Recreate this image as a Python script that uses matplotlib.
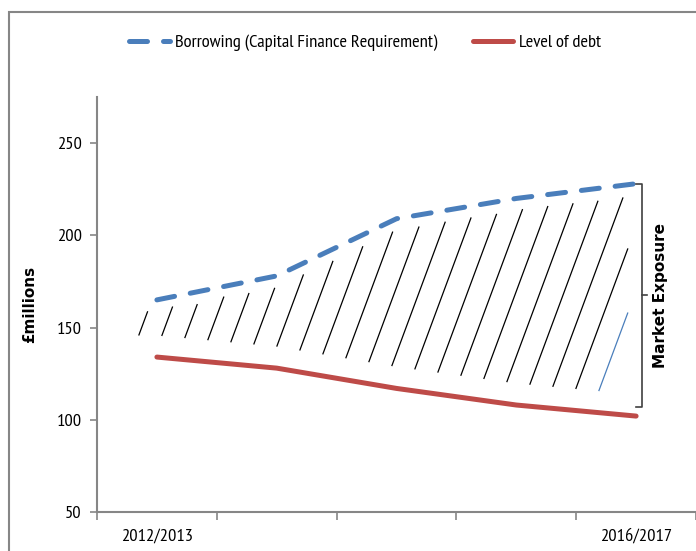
import matplotlib.pyplot as plt
import matplotlib.patches as mpatches
import numpy as np

## Chart data
years = ['2012/2013', '2013/2014', '2014/2015', '2015/2016', '2016/2017']
tick_labels = ['2012/2013', '', '', '', '2016/2017']
borrowing = [165, 178, 209, 220, 228]
debt = [134, 128, 117, 108, 102]

blue = '#4A7EBB'
red = '#BE4B48'
grey = '#868686'

plt.rcParams['font.family'] = ['PT Sans Narrow', 'DejaVu Sans']

fig = plt.figure(figsize=(6.96, 5.51), dpi=100)
ax = fig.add_axes([97/696, 39/551, 599/696, 415/551])

x = np.arange(len(years))

ax.plot(x, borrowing, color=blue, lw=3.6, dashes=(3.6, 3.2), dash_capstyle='round',
		label='Borrowing (Capital Finance Requirement)')
ax.plot(x, debt, color=red, lw=3.6, solid_capstyle='round', label='Level of debt')

## Hand-drawn style hatching between the two lines
k = 175.0      # slope of hatch lines (data units per category)
x_end = 3.93   # hatching stops here
hatch_x = np.linspace(-0.15, 3.69, 21)
for i, xb in enumerate(hatch_x):
	yb = np.interp(xb, x, debt) + 12
	xs = np.linspace(xb, x_end, 400)
	ys = yb + k*(xs - xb)
	hit = np.nonzero(ys >= np.interp(xs, x, borrowing) - 7)[0]
	j = hit[0] if len(hit) else len(xs) - 1
	col = blue if i == len(hatch_x) - 1 else 'black'
	ax.plot([xb, xs[j]], [yb, ys[j]], color=col, lw=0.9)

## Bracket for market exposure
bx = 4.05
b_top = borrowing[-1]
b_bot = debt[-1] + 5
b_mid = (b_top + b_bot)/2
ax.plot([bx - 0.05, bx, bx, bx - 0.05], [b_top, b_top, b_bot, b_bot],
		color='#404040', lw=1.2, clip_on=False)
ax.plot([bx, bx + 0.04], [b_mid, b_mid], color='#404040', lw=1.2, clip_on=False)
ax.text(bx + 0.15, b_mid, 'Market Exposure', rotation=90, ha='center', va='center',
		fontsize=11, fontweight='bold', family=['DejaVu Sans'])

## Axes styling
ax.set_xlim(-0.5, 4.5)
ax.set_ylim(50, 275)
ax.set_yticks([50, 100, 150, 200, 250])
ax.set_xticks(np.arange(-0.5, 5, 1.0))
ax.set_xticklabels([])
ax.set_xticks(x, tick_labels, minor=True)
ax.tick_params(axis='x', which='minor', length=0, pad=12, labelsize=13.3)
ax.tick_params(axis='x', which='major', length=6, width=1.2, color=grey)
ax.tick_params(axis='y', length=5, width=1.2, color=grey, labelsize=13.3, pad=6)

for s in ['top', 'right']:
	ax.spines[s].set_visible(False)
for s in ['left', 'bottom']:
	ax.spines[s].set_color(grey)
	ax.spines[s].set_linewidth(1.5)

ax.set_ylabel('£millions', fontsize=11, fontweight='bold', family=['DejaVu Sans'], labelpad=14)

ax.legend(loc='center', bbox_to_anchor=(365/696, 1 - 43/551), bbox_transform=fig.transFigure,
		  ncol=2, frameon=False, fontsize=13.3, handlelength=2.2, columnspacing=1.9, handletextpad=0.3)

## Outer chart frame
fig.patches.append(mpatches.Rectangle((9/696, -0.05), 1.2, 1 - 12/551 + 0.05, transform=fig.transFigure,
									  fill=False, edgecolor=grey, lw=1.5))

fig.savefig('out.png', dpi=100)
